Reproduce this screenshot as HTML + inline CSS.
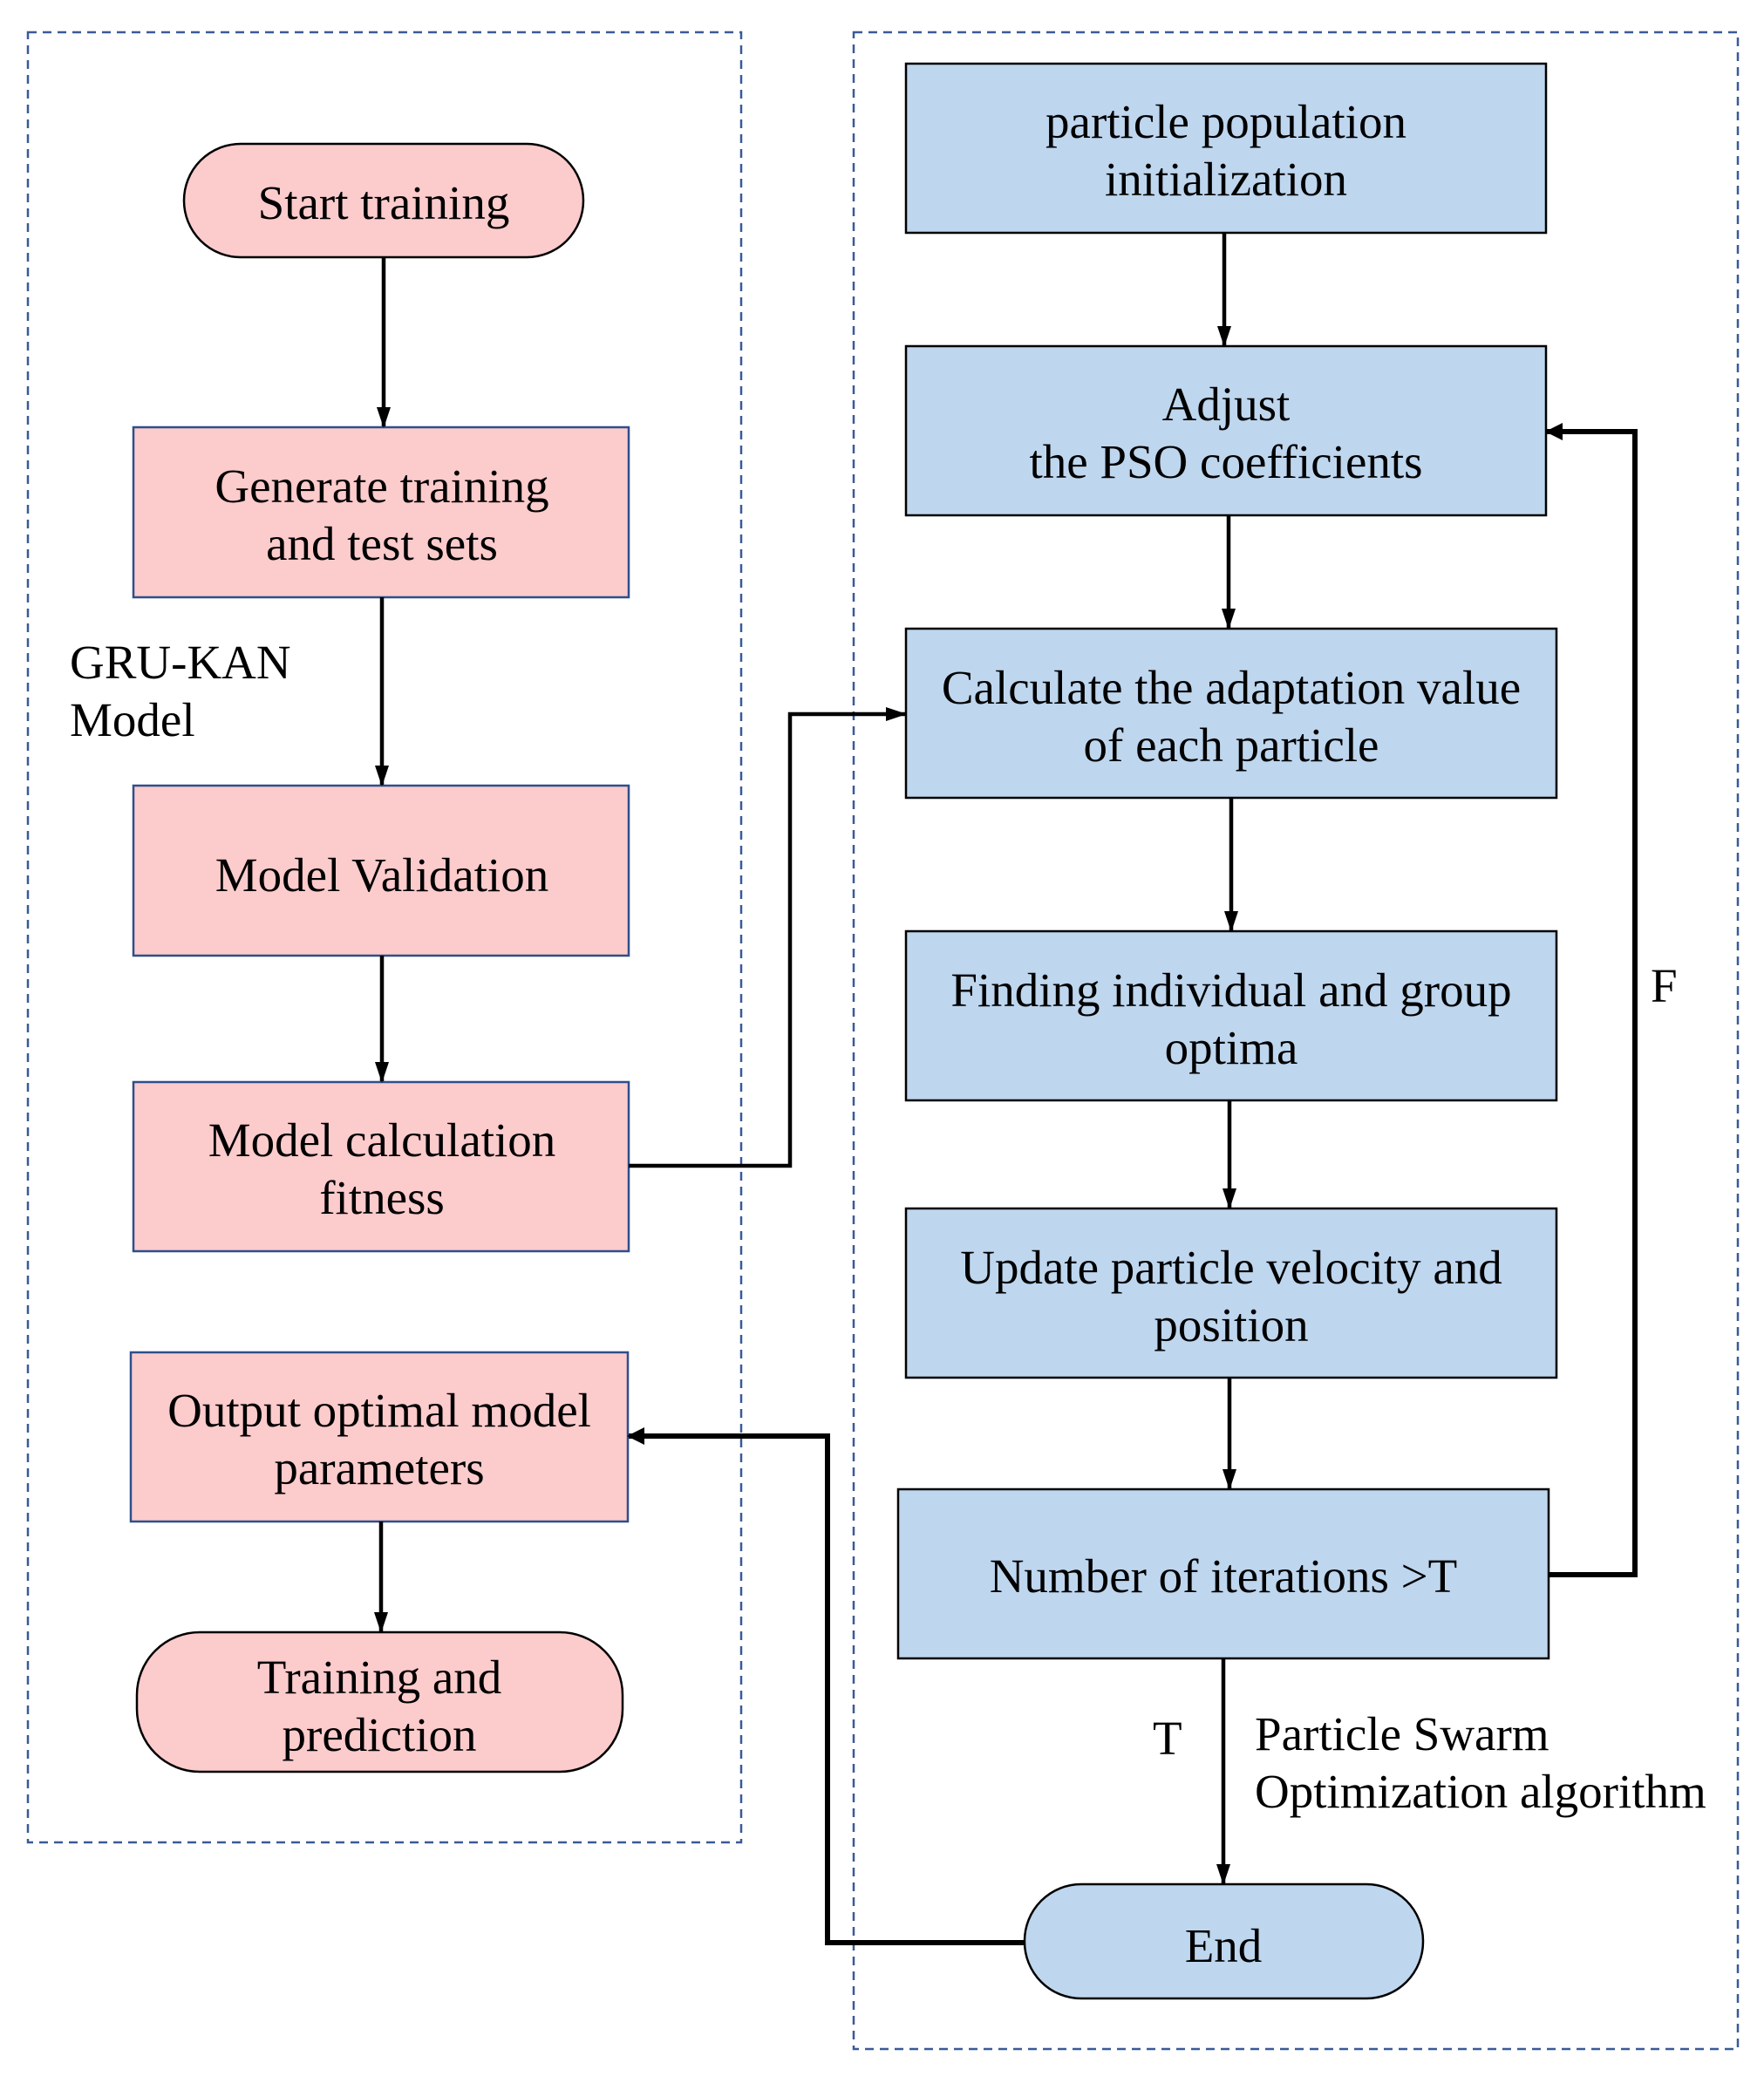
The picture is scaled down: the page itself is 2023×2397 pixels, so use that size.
<!DOCTYPE html>
<html><head><meta charset="utf-8"><style>
html,body{margin:0;padding:0;background:#fff;}
svg{display:block;}
text{font-family:"Liberation Serif",serif;font-size:55px;fill:#000;}
</style></head><body>
<svg width="2023" height="2397" viewBox="0 0 2023 2397" xmlns="http://www.w3.org/2000/svg">
<defs>
<marker id="a" markerWidth="24" markerHeight="16" refX="22" refY="8" orient="auto" markerUnits="userSpaceOnUse" viewBox="0 0 24 16">
<path d="M0,0 L24,8 L0,16 z" fill="#000"/></marker>
<marker id="b" markerWidth="20" markerHeight="20" refX="18" refY="10" orient="auto" markerUnits="userSpaceOnUse" viewBox="0 0 20 20">
<path d="M0,0 L20,10 L0,20 z" fill="#000"/></marker>
</defs>
<rect x="32" y="37" width="818" height="2076" fill="none" stroke="#3a5a97" stroke-width="2.5" stroke-dasharray="10,7"/>
<rect x="979" y="37" width="1014" height="2313" fill="none" stroke="#3a5a97" stroke-width="2.5" stroke-dasharray="10,7"/>

<g stroke="#000" stroke-width="2.5">
<rect x="211" y="165" width="458" height="130" rx="65" fill="#fccbcc"/>
<rect x="157" y="1872" width="557" height="160" rx="72" fill="#fccbcc"/>
<rect x="1175" y="2161" width="457" height="131" rx="65" fill="#bed6ee"/>
</g>
<g stroke="#2e4f8c" stroke-width="2.5" fill="#fccbcc">
<rect x="153" y="490" width="568" height="195"/>
<rect x="153" y="901" width="568" height="195"/>
<rect x="153" y="1241" width="568" height="194"/>
<rect x="150" y="1551" width="570" height="194"/>
</g>
<g stroke="#000" stroke-width="2.5" fill="#bed6ee">
<rect x="1039" y="73" width="734" height="194"/>
<rect x="1039" y="397" width="734" height="194"/>
<rect x="1039" y="721" width="746" height="194"/>
<rect x="1039" y="1068" width="746" height="194"/>
<rect x="1039" y="1386" width="746" height="194"/>
<rect x="1030" y="1708" width="746" height="194"/>
</g>

<g stroke="#000" stroke-width="4.5" fill="none" marker-end="url(#a)">
<line x1="440" y1="295" x2="440" y2="489"/>
<line x1="438" y1="685" x2="438" y2="900"/>
<line x1="438" y1="1096" x2="438" y2="1240"/>
<line x1="437" y1="1745" x2="437" y2="1871"/>
<line x1="1404" y1="267" x2="1404" y2="396"/>
<line x1="1409" y1="591" x2="1409" y2="720"/>
<line x1="1412" y1="915" x2="1412" y2="1067"/>
<line x1="1410" y1="1262" x2="1410" y2="1385"/>
<line x1="1410" y1="1580" x2="1410" y2="1707"/>
<line x1="1403" y1="1902" x2="1403" y2="2160"/>
<polyline points="721,1337 906,1337 906,819 1038,819"/>
</g>
<g stroke="#000" stroke-width="6" fill="none" marker-end="url(#b)">
<polyline points="1776,1806 1875,1806 1875,495 1774,495"/>
<polyline points="1175,2228 949,2228 949,1647 721,1647"/>
</g>

<g text-anchor="middle">
<text x="440" y="251">Start training</text>
<text x="438" y="576">Generate training</text>
<text x="438" y="642">and test sets</text>
<text x="438" y="1022">Model Validation</text>
<text x="438" y="1326">Model calculation</text>
<text x="438" y="1392">fitness</text>
<text x="435" y="1636">Output optimal model</text>
<text x="435" y="1702">parameters</text>
<text x="435" y="1942">Training and</text>
<text x="435" y="2008">prediction</text>
<text x="1406" y="158">particle population</text>
<text x="1406" y="224">initialization</text>
<text x="1406" y="482">Adjust</text>
<text x="1406" y="548">the PSO coefficients</text>
<text x="1412" y="807">Calculate the adaptation value</text>
<text x="1412" y="873">of each particle</text>
<text x="1412" y="1154">Finding individual and group</text>
<text x="1412" y="1220">optima</text>
<text x="1412" y="1472">Update particle velocity and</text>
<text x="1412" y="1538">position</text>
<text x="1403" y="1826">Number of iterations &gt;T</text>
<text x="1403" y="2250">End</text>
</g>
<text x="80" y="778">GRU-KAN</text>
<text x="80" y="844">Model</text>
<text x="1893" y="1149">F</text>
<text x="1322" y="2012">T</text>
<text x="1439" y="2007">Particle Swarm</text>
<text x="1439" y="2073">Optimization algorithm</text>
</svg>
</body></html>
